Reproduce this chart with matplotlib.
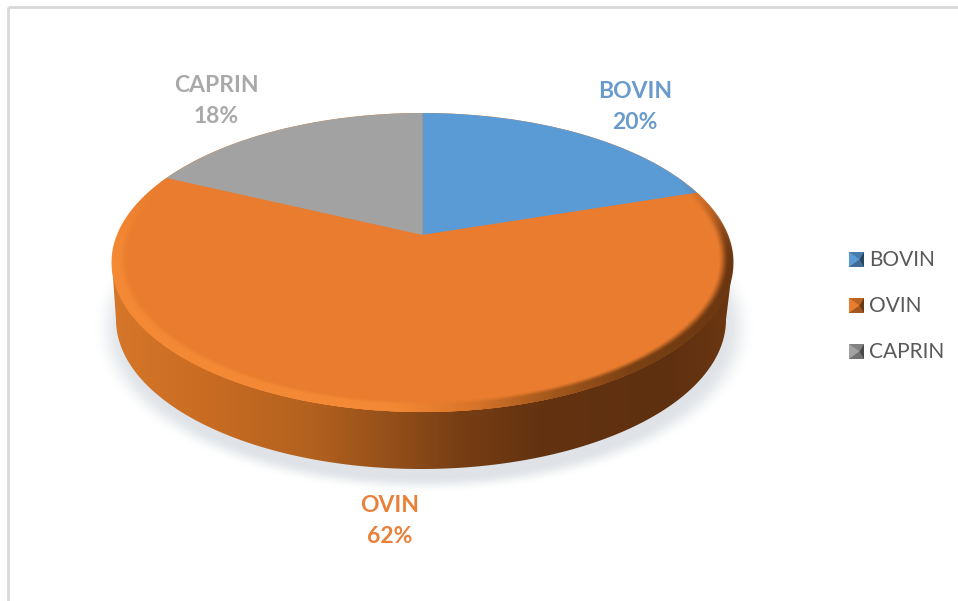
import numpy as np
import matplotlib
matplotlib.use('Agg')
import matplotlib.pyplot as plt
from matplotlib.colors import LinearSegmentedColormap, to_rgb
from matplotlib.patches import Polygon
from matplotlib.transforms import Transform

# Data
categories = ['BOVIN', 'OVIN', 'CAPRIN']
values = [20, 62, 18]
colors = ['#5b9bd5', '#e97c2e', '#a2a2a2']
label_colors = ['#6a9bcb', '#e8813a', '#a9a9a9']
label_xy = [(635, 107), (390, 521), (216, 101)]
legend_y = [259, 305, 351]

W, H = 958, 601

# Disc geometry in pixels
APEX_X, APEX_Y = 422.5, 235.0
BX, AY, K = 305.0, 144.4, 0.184
ELL_Y, ELL_RY = 262.5, 149.5
ELL_RX = 310.5
BASE_X, BASE_Y, BASE_RX, BASE_RY = 421.0, 319.5, 305.0, 149.5


class Tilt(Transform):
    """Perspective from the flat unit pie to picture pixels."""
    input_dims = 2
    output_dims = 2

    def transform_non_affine(self, values):
        values = np.asarray(values, dtype=float)
        d = 1 + K * values[:, 1]
        return np.column_stack((APEX_X + BX * values[:, 0] / d,
                                APEX_Y - AY * values[:, 1] / d))


def smooth(a, b, v):
    t = np.clip((v - a) / (b - a), 0, 1)
    return t * t * (3 - 2 * t)


plt.rcParams['font.family'] = ['Lato', 'DejaVu Sans']
fig = plt.figure(figsize=(W / 100, H / 100), dpi=100)
ax = fig.add_axes([0, 0, 1, 1])

# Pie top, drawn by the library, then tilted
wedges, _ = ax.pie(values, colors=colors, startangle=90, counterclock=False,
                   wedgeprops={'linewidth': 0})
ax.set_aspect('auto')
ax.set_xlim(0, W)
ax.set_ylim(H, 0)
ax.axis('off')
tilt = Tilt() + ax.transData
for w in wedges:
    w.set_transform(tilt)
    w.set_zorder(5)

xx, yy = np.meshgrid(np.arange(W) + .5, np.arange(H) + .5)
extent = (0, W, H, 0)

# Soft shadow under the disc
d = np.hypot((xx - 424) / 322, (yy - 328) / 160)
shadow = np.zeros((H, W, 4))
shadow[..., :3] = to_rgb('#dfe3e7')
shadow[..., 3] = 1 - smooth(0.93, 1.03, d)
ax.imshow(shadow, extent=extent, aspect='auto', zorder=1, interpolation='bilinear')

# Side wall with a left to right gradient
wall_cmap = LinearSegmentedColormap.from_list('wall', [
    (0.00, '#d6762a'), (0.15, '#c96c22'), (0.32, '#b3611f'), (0.46, '#924e19'),
    (0.56, '#773e14'), (0.70, '#623210'), (0.90, '#5f3010'), (1.00, '#6b3711')])
grad = np.clip((xx[:1] - 112) / 621, 0, 1)
wall_img = ax.imshow(grad, cmap=wall_cmap, vmin=0, vmax=1, extent=extent,
                     aspect='auto', zorder=2)
t = np.linspace(0, np.pi, 200)
edge_low = np.column_stack((BASE_X + BASE_RX * np.cos(t), BASE_Y + BASE_RY * np.sin(t)))
edge_top = np.array([[APEX_X - ELL_RX, ELL_Y], [APEX_X + ELL_RX, ELL_Y]])
wall = Polygon(np.vstack((edge_low, edge_top)), closed=True, transform=ax.transData,
               facecolor='none', edgecolor='none')
ax.add_patch(wall)
wall_img.set_clip_path(wall)

# Full disc under the wedges, so the wall never shows through
t = np.linspace(0, 2 * np.pi, 400)
ax.add_patch(Polygon(np.column_stack((APEX_X + ELL_RX * np.cos(t), ELL_Y + ELL_RY * np.sin(t))),
                     closed=True, facecolor=colors[1], edgecolor='none', zorder=3))

# Bevel: light on the left and front, fading to dark on the right
rim_cmap = LinearSegmentedColormap.from_list('rim', [
    (0.00, '#f48a35'), (0.45, '#f48935'), (0.58, '#d9752a'),
    (0.70, '#a65a1c'), (0.84, '#7a4114'), (1.00, '#6a3611')])
rim = rim_cmap(np.clip((xx - 112) / 621, 0, 1))
d_in = np.hypot((xx - 423.5) / 305.5, (yy - 259) / 146.5)
d_out = np.hypot((xx - APEX_X) / ELL_RX, (yy - ELL_Y) / ELL_RY)
rim[..., 3] = smooth(0.965, 1.0, d_in) * (1 - smooth(0.999, 1.004, d_out)) * smooth(175, 260, yy)
ax.imshow(rim, extent=extent, aspect='auto', zorder=6, interpolation='bilinear')

# Chart frame, only top and left are visible
ax.plot([8, W], [7, 7], color='#d9d9d9', lw=2, zorder=7, solid_capstyle='butt')
ax.plot([8, 8], [7, H], color='#d9d9d9', lw=2, zorder=7, solid_capstyle='butt')

# Data labels
for name, val, col, (lx, ly) in zip(categories, values, label_colors, label_xy):
    ax.text(lx, ly, f'{name}\n{val}%', color=col, fontsize=16.5, fontweight='bold',
            ha='center', va='center', linespacing=1.55, zorder=8)


# Legend with small pyramid keys
def shade(col, f):
    c = np.array(to_rgb(col))
    return tuple(c * f if f <= 1 else c + (1 - c) * (f - 1))


for name, col, y in zip(categories, colors, legend_y):
    x0, x1, y0, y1 = 849, 864, y - 7, y + 8
    cx, cy = (x0 + x1) / 2 + 3, (y0 + y1) / 2
    ax.add_patch(Polygon([(x0, y0), (x1, y0), (x1, y1), (x0, y1)], closed=True,
                         facecolor=shade(col, 0.85), edgecolor='none', zorder=8))
    faces = [([(x0, y0), (x1, y0), (cx, cy)], 0.8),
             ([(x0, y0), (x0, y1), (cx, cy)], 1.0),
             ([(x0, y1), (x1, y1), (cx, cy)], 0.7),
             ([(x1, y0), (x1, y1), (cx, cy)], 0.45)]
    for pts, f in faces:
        ax.add_patch(Polygon(pts, closed=True, facecolor=shade(col, f),
                             edgecolor='none', zorder=8))
    ax.text(869, y + 1.5, name, color='#595959', fontsize=15, ha='left', va='center', zorder=8)

ax.set_xlim(0, W)
ax.set_ylim(H, 0)
fig.savefig('out.png', dpi=100, facecolor='white')
